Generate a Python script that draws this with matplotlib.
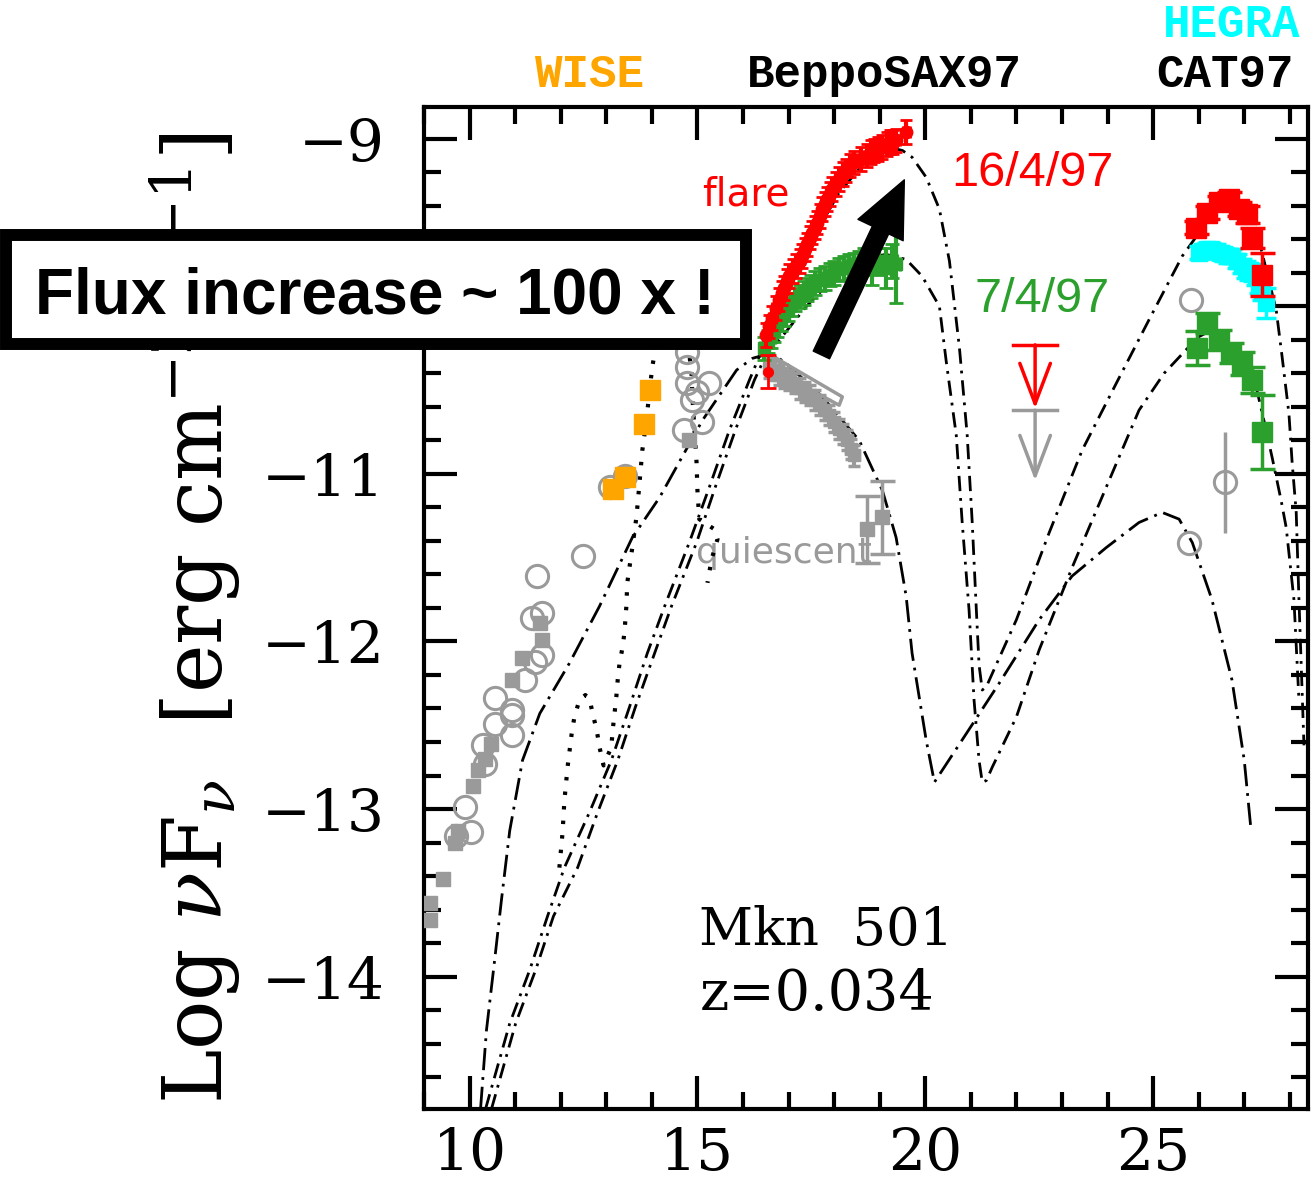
"""Mkn 501 SED: quiescent vs flare (BeppoSAX97 / CAT97 / HEGRA)."""

import matplotlib

matplotlib.use("Agg")

import matplotlib.pyplot as plt
from matplotlib.patches import ArrowStyle, FancyArrowPatch, Rectangle
from matplotlib.ticker import FuncFormatter, MultipleLocator

plt.rcParams["lines.scale_dashes"] = False
plt.rcParams["mathtext.fontset"] = "dejavuserif"

RED = "#ff0000"
GREEN = "#2ca02c"
GRAY = "#9a9a9a"
ORANGE = "#ffa500"
CYAN = "#00ffff"

# ---- archival (quiescent) data ----
arch_circ_x = [9.89, 9.71, 10.04, 10.33, 10.29, 10.94, 10.55, 10.94, 10.94, 10.55,
               11.21, 11.43, 11.58, 11.36, 11.58, 11.47, 12.48, 13.07, 13.40,
               14.76, 14.76, 14.76, 15.26, 14.98, 14.89, 15.11, 14.71, 25.83, 25.79]
arch_circ_y = [-12.99, -13.16, -13.14, -12.73, -12.62, -12.56, -12.49, -12.44, -12.41, -12.34,
               -12.23, -12.12, -12.08, -11.86, -11.83, -11.61, -11.49, -11.08, -11.01,
               -10.27, -10.36, -10.46, -10.46, -10.51, -10.56, -10.69, -10.74, -9.96, -11.41]
tev_circ_x = [26.58]
tev_circ_y = [-11.05]
tev_circ_err = [0.30]

arch_sq_x = [9.12, 9.12, 9.41, 9.67, 9.74, 10.07, 10.18, 10.33, 10.48, 10.94, 11.16, 11.54, 11.58, 14.82]
arch_sq_y = [-13.56, -13.66, -13.42, -13.20, -13.13, -12.86, -12.77, -12.70, -12.61, -12.23,
             -12.10, -11.89, -11.99, -10.80]

wise_x = [13.14, 13.42, 13.82, 13.95]
wise_y = [-11.09, -11.02, -10.70, -10.50]

# ---- BeppoSAX quiescent ----
sax_q_x = [16.58, 16.70, 16.80, 16.91, 17.02, 17.13, 17.24, 17.35, 17.46, 17.57, 17.68,
           17.79, 17.89, 18.00, 18.11, 18.20, 18.29, 18.37, 18.44]
sax_q_y = [-10.37, -10.38, -10.41, -10.43, -10.44, -10.46, -10.49, -10.51, -10.53, -10.56, -10.59,
           -10.62, -10.65, -10.69, -10.73, -10.76, -10.80, -10.85, -10.89]
sax_q_hi_x = [18.73, 19.06]
sax_q_hi_y = [-11.33, -11.26]
sax_q_hi_err = [0.20, 0.22]
bowtie_x = [16.73, 18.18, 18.11, 17.02, 16.73]
bowtie_y = [-10.31, -10.54, -10.59, -10.43, -10.31]

# ---- BeppoSAX flare 16/4/97 ----
flare_x = [16.51, 16.58, 16.64, 16.72, 16.80, 16.86, 16.91, 16.97, 17.02, 17.10, 17.17, 17.24,
           17.30, 17.36, 17.41, 17.47, 17.52, 17.58, 17.63, 17.69, 17.74, 17.80, 17.85, 17.91,
           17.96, 18.04, 18.11, 18.19, 18.27, 18.35, 18.44, 18.58, 18.71, 18.80, 18.88, 18.97,
           19.06, 19.15, 19.23, 19.30, 19.36, 19.58]
flare_y = [-10.17, -10.12, -10.07, -10.01, -9.96, -9.92, -9.89, -9.85, -9.82, -9.79, -9.76, -9.73,
           -9.70, -9.66, -9.63, -9.59, -9.56, -9.53, -9.50, -9.46, -9.42, -9.39, -9.36, -9.33,
           -9.30, -9.27, -9.24, -9.21, -9.19, -9.16, -9.14, -9.12, -9.10, -9.08, -9.07, -9.06,
           -9.05, -9.03, -9.02, -9.02, -9.01, -8.96]
flare_low_x = [16.54]
flare_low_y = [-10.39]
flare_low_err = [0.10]

# ---- BeppoSAX 7/4/97 ----
apr7_x = [16.47, 16.55, 16.62, 16.68, 16.75, 16.83, 16.91, 16.98, 17.06, 17.15, 17.24, 17.33,
          17.41, 17.50, 17.59, 17.69, 17.79, 17.90, 18.00, 18.11, 18.22, 18.33, 18.44, 18.55,
          18.66, 18.84, 18.99, 19.14, 19.28, 19.36]
apr7_y = [-10.25, -10.21, -10.18, -10.14, -10.11, -10.08, -10.05, -10.02, -9.99, -9.96, -9.94,
          -9.92, -9.90, -9.88, -9.86, -9.84, -9.83, -9.81, -9.80, -9.78, -9.77, -9.76, -9.75,
          -9.74, -9.73, -9.77, -9.73, -9.77, -9.73, -9.75]
apr7_err = [0.07, 0.07, 0.07, 0.07, 0.07, 0.07, 0.07, 0.07, 0.07, 0.07, 0.07, 0.07,
            0.07, 0.07, 0.07, 0.07, 0.07, 0.07, 0.07, 0.07, 0.07, 0.07, 0.07, 0.07,
            0.08, 0.10, 0.08, 0.12, 0.10, 0.23]

# ---- TeV ----
cat_flare_x = [25.94, 26.18, 26.45, 26.67, 26.89, 27.06, 27.17, 27.39]
cat_flare_y = [-9.53, -9.44, -9.38, -9.36, -9.42, -9.45, -9.59, -9.81]
cat_flare_err = [0.04, 0.04, 0.04, 0.04, 0.04, 0.05, 0.06, 0.13]
hegra_x = [26.01, 26.10, 26.18, 26.28, 26.38, 26.47, 26.56, 26.65, 26.73, 26.84, 26.95,
           27.03, 27.11, 27.19, 27.26, 27.33, 27.39, 27.48]
hegra_y = [-9.68, -9.67, -9.66, -9.66, -9.67, -9.68, -9.69, -9.70, -9.70, -9.73, -9.76,
           -9.78, -9.79, -9.80, -9.82, -9.86, -9.90, -9.98]
hegra_err = [0.04, 0.04, 0.04, 0.04, 0.04, 0.04, 0.04, 0.04, 0.04, 0.04, 0.04,
             0.05, 0.05, 0.05, 0.05, 0.06, 0.06, 0.09]
cat_apr7_x = [25.96, 26.18, 26.45, 26.71, 26.95, 27.17, 27.39]
cat_apr7_y = [-10.25, -10.10, -10.20, -10.28, -10.34, -10.44, -10.75]
cat_apr7_err = [0.10, 0.06, 0.06, 0.06, 0.07, 0.08, 0.22]

# upper limits (flare, quiescent)
ul_x = [22.41, 22.41]
ul_y = [-10.23, -10.62]
ul_len = [0.38, 0.42]
ul_colors = [RED, GRAY]

# ---- models ----
mod_q_x = [10.24, 10.37, 10.55, 10.70, 10.88, 11.16, 11.54, 12.19, 12.85, 13.57, 14.17, 15.11,
           15.86, 16.21, 16.47, 16.73, 16.95, 17.74, 18.55, 19.06, 19.36, 19.58, 19.71, 20.02,
           20.20, 20.90, 21.62, 22.50, 23.22, 23.97, 24.69, 25.20, 25.57, 25.86, 26.29, 26.73,
           27.00, 27.15]
mod_q_y = [-14.79, -14.32, -13.90, -13.54, -13.13, -12.71, -12.43, -12.13, -11.79, -11.38, -11.14,
           -10.68, -10.38, -10.31, -10.29, -10.30, -10.34, -10.54, -10.80, -11.10, -11.38, -11.73,
           -12.07, -12.59, -12.84, -12.55, -12.25, -11.87, -11.61, -11.44, -11.29, -11.23, -11.27,
           -11.41, -11.75, -12.23, -12.71, -13.13]

mod_f16_x = [10.35, 10.88, 11.32, 11.71, 12.08, 12.63, 13.11, 13.51, 13.90, 14.28, 14.82, 15.26,
             15.70, 16.14, 16.51, 16.80, 17.02, 17.61, 18.11, 18.71, 19.21, 19.50, 19.71, 20.02,
             20.31, 20.53, 20.75, 20.92, 21.03, 21.12, 21.18, 21.25, 21.34, 22.00, 22.72, 23.44,
             24.19, 24.91, 25.64, 26.01, 26.45, 26.73, 27.04, 27.26, 27.39, 27.70, 27.83, 27.98,
             28.05, 28.14, 28.20, 28.31]
mod_f16_y = [-14.79, -14.28, -13.96, -13.64, -13.35, -13.02, -12.71, -12.39, -12.07, -11.79, -11.41,
             -11.08, -10.74, -10.44, -10.20, -9.99, -9.86, -9.56, -9.32, -9.13, -9.05, -9.07, -9.11,
             -9.23, -9.42, -9.73, -10.25, -10.77, -11.29, -11.81, -12.14, -12.29, -12.27, -11.87,
             -11.35, -10.86, -10.46, -10.08, -9.70, -9.56, -9.42, -9.41, -9.44, -9.54, -9.68,
             -10.02, -10.30, -10.64, -10.93, -11.23, -11.75, -12.62]

mod_f7_x = [10.48, 11.01, 11.45, 11.84, 12.37, 12.81, 13.25, 13.64, 14.06, 14.43, 14.98, 15.39,
            15.83, 16.25, 16.54, 16.80, 17.39, 18.11, 18.71, 19.14, 19.58, 19.93, 20.31, 20.46,
            20.68, 20.81, 20.96, 21.07, 21.18, 21.25, 21.34, 21.47, 22.00, 22.50, 23.22, 23.97,
            24.69, 25.24, 25.79, 26.01, 26.23, 26.51, 26.82, 27.04, 27.26, 27.43, 27.61, 27.81,
            27.92, 28.09, 28.20]
mod_f7_y = [-14.79, -14.28, -13.96, -13.64, -13.35, -13.02, -12.71, -12.39, -12.07, -11.79, -11.41,
            -11.08, -10.74, -10.44, -10.27, -10.20, -10.00, -9.80, -9.71, -9.69, -9.72, -9.82,
            -10.00, -10.33, -10.77, -11.29, -11.81, -12.35, -12.71, -12.84, -12.83, -12.75,
            -12.45, -12.05, -11.56, -11.08, -10.62, -10.40, -10.24, -10.18, -10.15, -10.18,
            -10.26, -10.36, -10.48, -10.68, -10.90, -11.16, -11.32, -11.75, -12.35]

dot1_x = [11.97, 12.04, 12.08, 12.15, 12.24, 12.30, 12.41, 12.54, 12.63, 12.70, 12.79, 12.85,
          12.94, 13.11, 13.14, 13.18, 13.22, 13.25, 13.29, 13.36, 13.40, 13.44, 13.46, 13.57,
          13.66, 13.73, 13.79, 13.88, 13.95, 14.01, 14.06, 14.21]
dot1_y = [-13.35, -13.14, -12.95, -12.75, -12.55, -12.45, -12.35, -12.32, -12.34, -12.43, -12.53,
          -12.63, -12.74, -12.63, -12.53, -12.43, -12.33, -12.23, -12.13, -12.03, -11.94, -11.79,
          -11.65, -11.44, -11.26, -11.05, -10.86, -10.68, -10.50, -10.36, -10.28, -9.96]
dot2_x = [14.78, 14.82, 14.87, 14.89, 14.93, 14.98, 15.00, 15.04, 15.37, 15.44, 15.31, 15.22]
dot2_y = [-9.96, -10.28, -10.40, -10.54, -10.72, -10.93, -11.10, -11.27, -11.33, -11.39, -11.51, -11.65]

# ---- figure ----
fig = plt.figure(figsize=(13.12, 11.91), dpi=100)
ax = fig.add_axes([0.3232, 0.0689, 0.6738, 0.8413])

ax.plot(mod_q_x, mod_q_y, color="black", lw=2.0, linestyle=(0, (16, 5, 2, 5)), zorder=2)
ax.plot(mod_f16_x, mod_f16_y, color="black", lw=2.0, linestyle=(0, (11, 5, 2, 5)), zorder=2)
ax.plot(mod_f7_x, mod_f7_y, color="black", lw=2.0, linestyle=(0, (11, 5, 2, 5)), zorder=2)
ax.plot(dot1_x, dot1_y, color="black", lw=3.0, linestyle=(0, (2.5, 8)), zorder=2)
ax.plot(dot2_x, dot2_y, color="black", lw=3.0, linestyle=(0, (2.5, 8)), zorder=2)

# archival
ax.plot(arch_circ_x, arch_circ_y, "o", ms=16, mfc="none", mec=GRAY, mew=2.2, zorder=3)
ax.errorbar(tev_circ_x, tev_circ_y, yerr=tev_circ_err, fmt="o", ms=16, mfc="none",
            mec=GRAY, mew=2.2, ecolor=GRAY, elinewidth=2.5, zorder=3)
ax.plot(arch_sq_x, arch_sq_y, "s", ms=10, color=GRAY, zorder=3)
ax.plot(wise_x, wise_y, "s", ms=14, color=ORANGE, zorder=4)

# X-ray
ax.plot(bowtie_x, bowtie_y, color=GRAY, lw=2.5, zorder=3)
ax.errorbar(sax_q_x, sax_q_y, xerr=0.1, yerr=0.06, fmt="s", ms=8, color=GRAY,
            elinewidth=3, capsize=4, capthick=2.5, zorder=3)
ax.errorbar(sax_q_hi_x, sax_q_hi_y, yerr=sax_q_hi_err, fmt="s", ms=10, color=GRAY,
            elinewidth=2.5, capsize=9, capthick=2.5, zorder=3)
ax.errorbar(apr7_x, apr7_y, xerr=0.09, yerr=apr7_err, fmt="s", ms=9, color=GREEN,
            elinewidth=3, capsize=5, capthick=2, zorder=4)
ax.errorbar(flare_x, flare_y, xerr=0.08, yerr=0.07, fmt="o", ms=9, color=RED,
            elinewidth=3, capsize=4, capthick=2, zorder=5)
ax.errorbar(flare_low_x, flare_low_y, yerr=flare_low_err, fmt="o", ms=7, color=RED,
            elinewidth=2.0, capsize=6, capthick=2, zorder=5)

# TeV
ax.errorbar(cat_apr7_x, cat_apr7_y, yerr=cat_apr7_err, fmt="s", ms=14, color=GREEN,
            elinewidth=2.5, capsize=9, capthick=2.5, zorder=4)
ax.errorbar(hegra_x, hegra_y, yerr=hegra_err, fmt="s", ms=11, color=CYAN,
            elinewidth=2.5, capsize=7, capthick=2.5, zorder=4)
ax.errorbar(cat_flare_x, cat_flare_y, yerr=cat_flare_err, fmt="s", ms=14, color=RED,
            elinewidth=2.5, capsize=9, capthick=2.5, zorder=5)

# upper limits
for x0, y0, dy, col in zip(ul_x, ul_y, ul_len, ul_colors):
    ax.plot([x0 - 0.48, x0 + 0.48], [y0, y0], color=col, lw=2.5, zorder=4)
    ax.annotate("", xy=(x0, y0 - dy), xytext=(x0, y0),
                arrowprops=dict(arrowstyle="->,head_length=2.9,head_width=1.1",
                                mutation_scale=10, color=col, lw=2.5,
                                shrinkA=0, shrinkB=0), zorder=4)

# big arrow
arrow = FancyArrowPatch(posA=(17.72, -10.29), posB=(19.54, -9.245),
                        arrowstyle=ArrowStyle.Simple(head_length=4.0, head_width=3.6, tail_width=1.3),
                        mutation_scale=10, color="black", shrinkA=0, shrinkB=0, zorder=6)
ax.add_patch(arrow)

# in-plot labels
ax.text(16.07, -9.33, "flare", color=RED, fontsize=28, family="DejaVu Sans",
        ha="center", va="center")
ax.text(22.35, -9.21, "16/4/97", color=RED, fontsize=35, family="Liberation Sans",
        ha="center", va="center")
ax.text(22.57, -9.96, "7/4/97", color=GREEN, fontsize=35, family="Liberation Sans",
        ha="center", va="center")
ax.text(16.89, -11.47, "quiescent", color=GRAY, fontsize=26, family="DejaVu Sans",
        ha="center", va="center", zorder=1)
ax.text(15.04, -13.81, "Mkn  501", fontsize=38, family="DejaVu Serif", ha="left", va="baseline")
ax.text(15.04, -14.20, "z=0.034", fontsize=40, family="DejaVu Serif", ha="left", va="baseline")

# axes styling
ax.set_xlim(9.0, 28.4)
ax.set_ylim(-14.79, -8.81)
ax.xaxis.set_major_locator(MultipleLocator(5))
ax.xaxis.set_minor_locator(MultipleLocator(1))
ax.yaxis.set_major_locator(MultipleLocator(1))
ax.yaxis.set_minor_locator(MultipleLocator(0.2))
ax.yaxis.set_major_formatter(FuncFormatter(lambda v, _: f"\u2212{abs(int(round(v)))}"))
ax.xaxis.set_major_formatter(FuncFormatter(lambda v, _: f"{int(round(v))}"))
ax.tick_params(which="both", direction="in", top=True, right=True, width=3)
ax.tick_params(which="major", length=24)
ax.tick_params(which="minor", length=12)
ax.tick_params(axis="y", which="major", pad=28, labelsize=42)
ax.tick_params(axis="x", which="major", pad=12, labelsize=42)
for lab in ax.get_xticklabels() + ax.get_yticklabels():
    lab.set_family("DejaVu Serif")
for spine in ax.spines.values():
    spine.set_linewidth(3)

ax.set_ylabel(r"Log $\nu$F$_\nu$  [erg cm$^{-2}$ s$^{-1}$]", fontsize=59, family="DejaVu Serif")
ax.yaxis.set_label_coords(-0.205, 0.49)

# instrument labels above the frame
top_font = dict(family="Liberation Mono", weight="bold", fontsize=33, ha="center", va="center")
fig.text(0.4497, 0.937, "WISE", color=ORANGE, **top_font)
fig.text(0.674, 0.937, "BeppoSAX97", color="black", **top_font)
fig.text(0.934, 0.937, "CAT97", color="black", **top_font)
fig.text(0.939, 0.979, "HEGRA", color=CYAN, **top_font)

# highlight box
box = Rectangle((6 / 1312, 847 / 1191), 740 / 1312, 109 / 1191, transform=fig.transFigure,
                facecolor="white", edgecolor="black", linewidth=8.6, zorder=10)
fig.add_artist(box)
fig.text(0.2858, 0.7364, "Flux increase ~ 100 x !", fontsize=46, weight="bold",
         family="Liberation Sans", ha="center", va="baseline", zorder=11)

fig.savefig("out.png", dpi=100)
plt.close(fig)
